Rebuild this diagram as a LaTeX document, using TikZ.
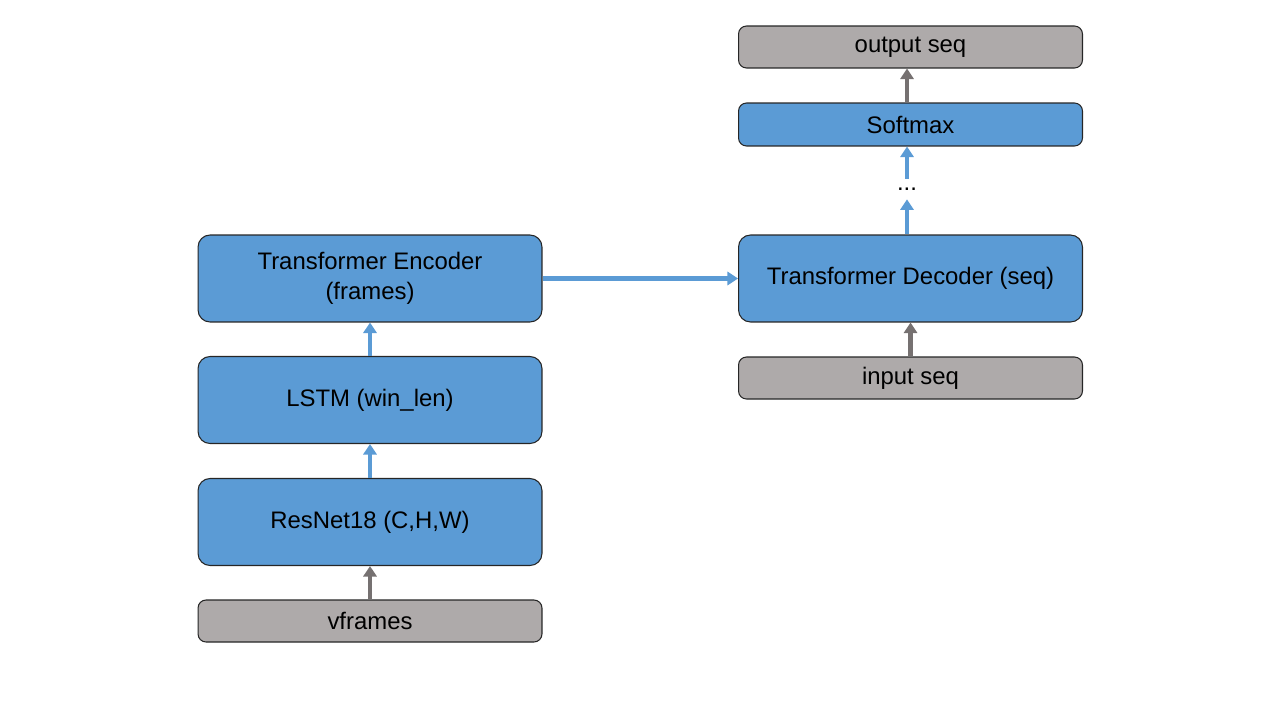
\documentclass[tikz,border=0pt]{standalone}
\usepackage{fontspec}
\setmainfont{Liberation Sans}
\usepackage{xcolor}
\usetikzlibrary{arrows.meta}
\definecolor{boxblue}{HTML}{5B9BD5}
\definecolor{boxgray}{HTML}{AEAAAA}
\definecolor{arrowgray}{HTML}{767171}

\begin{document}
\begin{tikzpicture}[x=0.02cm,y=-0.02cm] % one unit = one pixel of the 1280x720 slide
    \tikzstyle{every node}=[font=\fontsize{13.6}{17}\selectfont]
    \tikzstyle{bluebox}=[draw=black!85, line width=0.6pt, fill=boxblue, rounded corners=0.24cm, minimum width=6.88cm, minimum height=1.74cm, align=center]
    \tikzstyle{graybox}=[draw=black!85, line width=0.6pt, fill=boxgray, rounded corners=0.16cm, minimum width=6.88cm, minimum height=0.84cm]
    \tikzstyle{bluearrow}=[-{Triangle[length=6pt,width=7.5pt]}, draw=boxblue, fill=boxblue, line width=2.3pt]
    \tikzstyle{grayarrow}=[-{Triangle[length=6pt,width=7.5pt]}, draw=arrowgray, fill=arrowgray, line width=2.3pt]
    \useasboundingbox (0,0) rectangle (1280,720);
    % left column
    \node [graybox] (vframes) at (370,621) {vframes};
    \node [bluebox] (resnet) at (370,522) {ResNet18 (C,H,W)};
    \node [bluebox] (lstm) at (370,400) {LSTM (win\_len)};
    \node [bluebox] (encoder) at (370,278.5) {Transformer Encoder\\(frames)};
    % right column
    \node [graybox] (inseq) at (910.5,378) {input seq};
    \node [bluebox] (decoder) at (910.5,278.5) {Transformer Decoder (seq)};
    \node [inner sep=0pt, minimum height=0.4cm] (dots) at (907,189) {...};
    \node [bluebox, minimum height=0.86cm, rounded corners=0.16cm] (softmax) at (910.5,124.5) {Softmax};
    \node [graybox] (outseq) at (910.5,47) {output seq};
    % connectors
    \draw [grayarrow] (vframes) -- (resnet);
    \draw [bluearrow] (resnet) -- (lstm);
    \draw [bluearrow] (lstm) -- (encoder);
    \draw [bluearrow] (encoder) -- (decoder);
    \draw [grayarrow] (inseq) -- (decoder);
    \draw [bluearrow] (decoder.north -| dots) -- (dots);
    \draw [bluearrow] (dots) -- (softmax.south -| dots);
    \draw [grayarrow] (softmax.north -| dots) -- (outseq.south -| dots);
\end{tikzpicture}
\end{document}
